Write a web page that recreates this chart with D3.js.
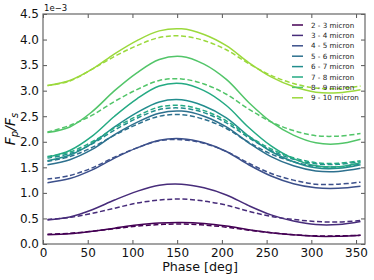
<!DOCTYPE html>
<html>
<head>
<meta charset="utf-8">
<script src="https://cdn.jsdelivr.net/npm/d3@7"></script>
<style>
  html, body { margin: 0; padding: 0; background: #fff; }
  svg { display: block; font-family: "DejaVu Sans", sans-serif; }
</style>
</head>
<body>
<div id="chart"></div>
<script>
// phase grid and flux ratios (units of 1e-3)
const phases = [5, 30, 55, 80, 105, 130, 155, 180, 205, 230, 255, 280, 305, 330, 355];

const bands = ['2 - 3 micron', '3 - 4 micron', '4 - 5 micron', '5 - 6 micron',
               '6 - 7 micron', '7 - 8 micron', '8 - 9 micron', '9 - 10 micron'];

// solid curves
const solid23  = [0.18, 0.20, 0.25, 0.31, 0.37, 0.41, 0.42, 0.40, 0.35, 0.28, 0.22, 0.18, 0.15, 0.15, 0.17];
const solid34  = [0.47, 0.53, 0.67, 0.86, 1.03, 1.15, 1.17, 1.10, 0.96, 0.75, 0.57, 0.45, 0.38, 0.38, 0.44];
const solid45  = [1.20, 1.28, 1.45, 1.68, 1.88, 2.03, 2.06, 1.98, 1.81, 1.55, 1.33, 1.18, 1.10, 1.09, 1.13];
const solid56  = [1.55, 1.65, 1.85, 2.14, 2.38, 2.56, 2.60, 2.50, 2.29, 1.98, 1.71, 1.53, 1.43, 1.42, 1.48];
const solid67  = [1.63, 1.74, 1.97, 2.29, 2.57, 2.78, 2.82, 2.70, 2.47, 2.11, 1.81, 1.61, 1.49, 1.48, 1.55];
const solid78  = [1.70, 1.83, 2.11, 2.50, 2.84, 3.09, 3.14, 3.00, 2.71, 2.28, 1.92, 1.67, 1.53, 1.51, 1.59];
const solid89  = [2.18, 2.29, 2.59, 3.00, 3.35, 3.61, 3.67, 3.52, 3.22, 2.77, 2.39, 2.13, 1.98, 1.96, 2.05];
const solid910 = [3.10, 3.20, 3.42, 3.72, 3.98, 4.17, 4.21, 4.10, 3.88, 3.55, 3.27, 3.08, 2.97, 2.96, 3.02];

// dashed curves
const dash23  = [0.19, 0.21, 0.25, 0.30, 0.35, 0.38, 0.39, 0.37, 0.33, 0.27, 0.22, 0.18, 0.16, 0.16, 0.17];
const dash34  = [0.48, 0.52, 0.60, 0.70, 0.80, 0.86, 0.88, 0.84, 0.76, 0.64, 0.54, 0.48, 0.44, 0.43, 0.46];
const dash45  = [1.27, 1.34, 1.49, 1.70, 1.88, 2.02, 2.04, 1.97, 1.81, 1.58, 1.38, 1.25, 1.17, 1.17, 1.21];
const dash56  = [1.62, 1.71, 1.89, 2.13, 2.34, 2.50, 2.53, 2.44, 2.26, 1.99, 1.76, 1.61, 1.52, 1.51, 1.56];
const dash67  = [1.68, 1.77, 1.96, 2.23, 2.46, 2.63, 2.66, 2.57, 2.37, 2.08, 1.83, 1.66, 1.57, 1.56, 1.61];
const dash78  = [1.71, 1.80, 2.00, 2.27, 2.50, 2.68, 2.71, 2.61, 2.41, 2.11, 1.86, 1.69, 1.59, 1.58, 1.63];
const dash89  = [2.19, 2.32, 2.52, 2.79, 3.02, 3.20, 3.23, 3.13, 2.93, 2.64, 2.39, 2.22, 2.12, 2.11, 2.16];
const dash910 = [3.10, 3.19, 3.42, 3.67, 3.88, 4.04, 4.07, 3.98, 3.80, 3.53, 3.30, 3.14, 3.05, 3.04, 3.09];

const solidSeries = [solid23, solid34, solid45, solid56, solid67, solid78, solid89, solid910];
const dashSeries = [dash23, dash34, dash45, dash56, dash67, dash78, dash89, dash910];

const xTicks = [0, 50, 100, 150, 200, 250, 300, 350];
const yTicks = [0, 0.5, 1.0, 1.5, 2.0, 2.5, 3.0, 3.5, 4.0, 4.5];

document.addEventListener('DOMContentLoaded', () => {
  const width = 374, height = 280;
  const margin = {top: 14, right: 9, bottom: 36, left: 43};
  const w = width - margin.left - margin.right;
  const h = height - margin.top - margin.bottom;

  const svg = d3.select('#chart').append('svg').attr('width', width).attr('height', height);
  const g = svg.append('g').attr('transform', `translate(${margin.left},${margin.top})`);

  const x = d3.scaleLinear().domain([0, 360]).range([0, w]);
  const y = d3.scaleLinear().domain([0, 4.5]).range([h, 0]);
  const color = d3.scaleOrdinal().domain(bands)
    .range(bands.map((b, i) => d3.interpolateViridis(i * 0.85 / 7)));

  svg.append('defs').append('clipPath').attr('id', 'clip')
    .append('rect').attr('width', w).attr('height', h);

  const line = d3.line()
    .x((d, i) => x(phases[i]))
    .y(d => y(d))
    .curve(d3.curveCatmullRom.alpha(0.5));

  const plot = g.append('g').attr('clip-path', 'url(#clip)');
  bands.forEach((b, i) => {
    plot.append('path').datum(solidSeries[i])
      .attr('d', line).attr('fill', 'none')
      .attr('stroke', color(b)).attr('stroke-width', 1.5);
    plot.append('path').datum(dashSeries[i])
      .attr('d', line).attr('fill', 'none')
      .attr('stroke', color(b)).attr('stroke-width', 1.5)
      .attr('stroke-dasharray', '5,2.6');
  });

  // axes: inward ticks on all four sides, matplotlib classic look
  const tickCol = '#555';
  const styleAxis = (sel) => {
    sel.select('.domain').remove();
    sel.selectAll('.tick line').attr('stroke', tickCol);
    sel.selectAll('.tick text').attr('fill', '#111').style('font-size', '12px')
      .style('font-family', '"DejaVu Sans", sans-serif');
  };

  g.append('g').attr('transform', `translate(0,${h})`)
    .call(d3.axisBottom(x).tickValues(xTicks).tickSize(-4).tickPadding(4).tickFormat(d3.format('d')))
    .call(styleAxis);
  g.append('g')
    .call(d3.axisTop(x).tickValues(xTicks).tickSize(-4).tickFormat(''))
    .call(styleAxis);
  g.append('g')
    .call(d3.axisLeft(y).tickValues(yTicks).tickSize(-4).tickPadding(4).tickFormat(d3.format('.1f')))
    .call(styleAxis);
  g.append('g').attr('transform', `translate(${w},0)`)
    .call(d3.axisRight(y).tickValues(yTicks).tickSize(-4).tickFormat(''))
    .call(styleAxis);

  g.append('rect').attr('width', w).attr('height', h)
    .attr('fill', 'none').attr('stroke', '#666').attr('stroke-width', 1.2);

  // offset text
  g.append('text').attr('x', 1).attr('y', -3)
    .style('font-size', '8.5px').attr('fill', '#111').text('1e\u22123');

  // axis labels
  svg.append('text').attr('x', margin.left + w / 2 - 4).attr('y', 271)
    .attr('text-anchor', 'middle').style('font-size', '12.7px').attr('fill', '#111')
    .text('Phase [deg]');

  const yl = svg.append('text')
    .attr('transform', `translate(15,${margin.top + h / 2}) rotate(-90)`)
    .attr('text-anchor', 'middle').style('font-size', '14px').attr('fill', '#111')
    .style('font-style', 'italic');
  yl.append('tspan').text('F');
  yl.append('tspan').attr('dy', 3).style('font-size', '10px').text('p');
  yl.append('tspan').attr('dy', -3).text('/F');
  yl.append('tspan').attr('dy', 3).style('font-size', '10px').text('s');

  // legend (no frame)
  const legend = svg.append('g').attr('transform', 'translate(292,25)');
  bands.forEach((b, i) => {
    const row = legend.append('g').attr('transform', `translate(0,${i * 10.4})`);
    row.append('line').attr('x1', 0).attr('x2', 11)
      .attr('stroke', color(b)).attr('stroke-width', 1.5);
    row.append('text').attr('x', 19).attr('dy', '0.35em')
      .style('font-size', '7.2px').attr('fill', '#222').text(b);
  });
});
</script>
</body>
</html>
